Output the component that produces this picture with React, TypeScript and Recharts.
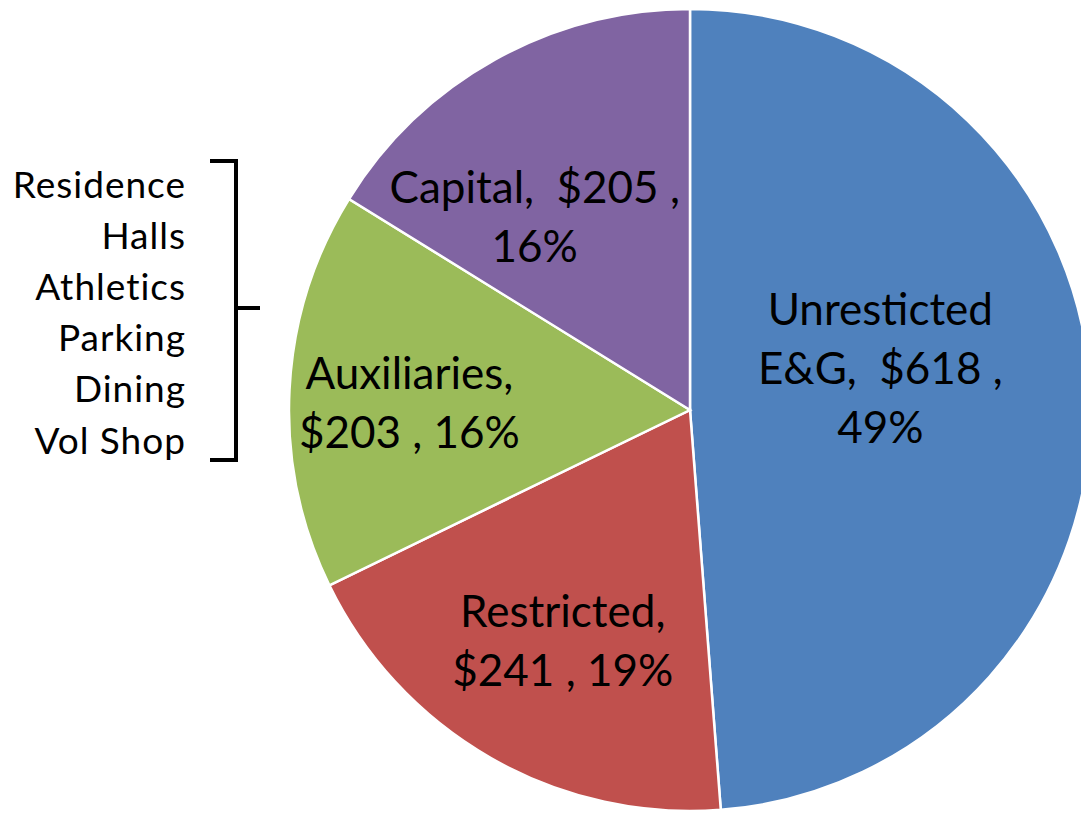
import React from 'react';
import { PieChart, Pie, Cell } from 'recharts';

const categories = ['Unresticted E&G', 'Restricted', 'Auxiliaries', 'Capital'];
const amounts = [618, 241, 203, 205];
const percents = [49, 19, 16, 16];
const labelLines = [
  ['Unresticted', 'E&G,  $618 ,', '49%'],
  ['Restricted,', '$241 , 19%'],
  ['Auxiliaries,', '$203 , 16%'],
  ['Capital,  $205 ,', '16%'],
];
const auxiliaryItems = ['Residence', 'Halls', 'Athletics', 'Parking', 'Dining', 'Vol Shop'];

const colors = ['#4F81BD', '#C0504D', '#9BBB59', '#8064A2'];
const labelRadius = [0.485, 0.66, 0.70, 0.615];
const labelAngleShift = [9.7, 1.1, 1.8, 9.9];

const data = categories.map((name, i) => ({ name, value: amounts[i], pct: percents[i] }));

const FONT = 'Lato, "Open Sans", sans-serif';
const RAD = Math.PI / 180;

const renderLabel = (props: any) => {
  const { cx, cy, midAngle, outerRadius, index } = props;
  const r = outerRadius * labelRadius[index];
  const a = (midAngle + labelAngleShift[index]) * RAD;
  const x = cx + r * Math.cos(a);
  const y = cy - r * Math.sin(a) - 3;
  const lines = labelLines[index];
  const lh = 59;
  const top = y - ((lines.length - 1) * lh) / 2;
  return (
    <g>
      {lines.map((t, k) => (
        <text
          key={k}
          x={x}
          y={top + k * lh}
          textAnchor="middle"
          dominantBaseline="central"
          fontFamily={FONT}
          fontSize={44}
          fill="#000"
          style={{ whiteSpace: 'pre' }}
        >
          {t}
        </text>
      ))}
    </g>
  );
};

export default function App() {
  return (
    <div style={{ position: 'absolute', left: 0, top: 0, width: 1081, height: 815, background: '#fff', overflow: 'hidden' }}>
      <PieChart width={1081} height={815} margin={{ top: 0, right: 0, bottom: 0, left: 0 }}>
        <Pie
          data={data}
          dataKey="value"
          nameKey="name"
          cx={690}
          cy={410}
          outerRadius={401}
          startAngle={90}
          endAngle={-270}
          stroke="#ffffff"
          strokeWidth={2.5}
          label={renderLabel}
          labelLine={false}
          isAnimationActive={false}
        >
          {data.map((d, i) => (
            <Cell key={d.name} fill={colors[i]} />
          ))}
        </Pie>
      </PieChart>
      <svg width={300} height={500} style={{ position: 'absolute', left: 0, top: 0 }}>
        {auxiliaryItems.map((t, k) => (
          <text
            key={t}
            x={186}
            y={183 + k * 51.2}
            textAnchor="end"
            dominantBaseline="central"
            fontFamily={FONT}
            fontSize={37}
            letterSpacing={1}
            fill="#000"
          >
            {t}
          </text>
        ))}
        <path d="M210,161 H236 V460 H210 M236,308 H260" fill="none" stroke="#000" strokeWidth={4} />
      </svg>
    </div>
  );
}
